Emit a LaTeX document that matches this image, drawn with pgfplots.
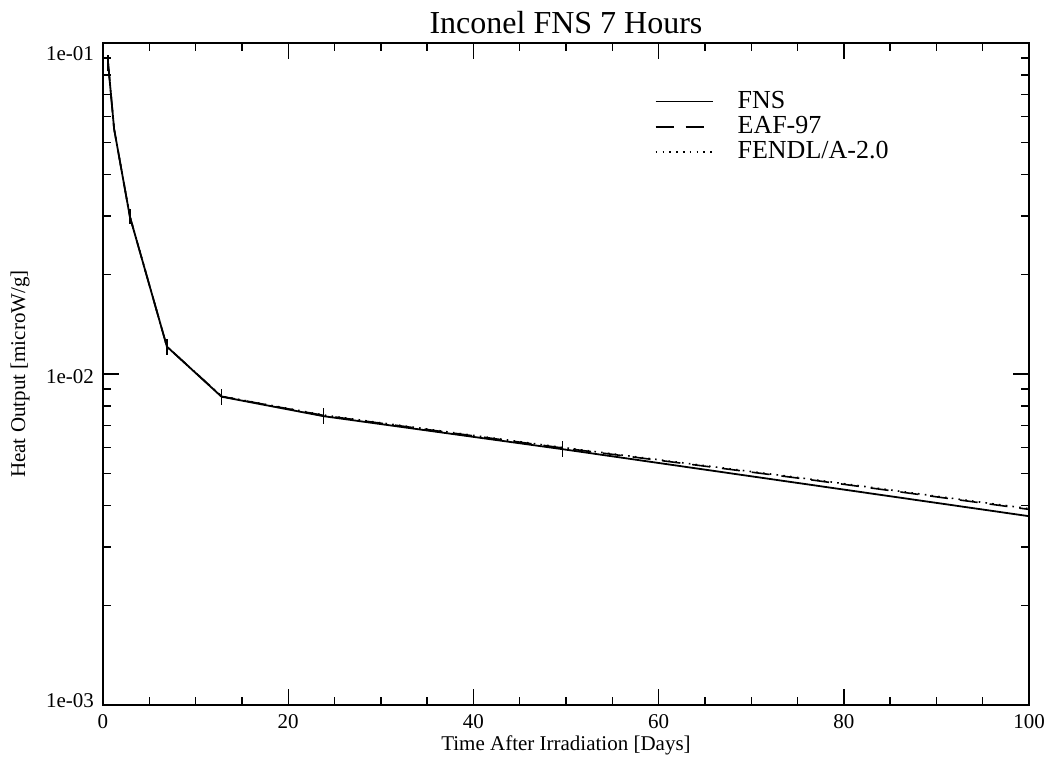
\documentclass[border=0pt]{standalone}
\usepackage{fontspec}
\setmainfont{Liberation Serif}
\usepackage{pgfplots}
\pgfplotsset{compat=1.18}
\begin{document}
\begin{tikzpicture}
\useasboundingbox (-51.5pt,-26pt) rectangle (475pt,352.5pt);
\begin{axis}[
  scale only axis,
  width=463pt, height=331pt,
  at={(0,0)}, anchor=south west,
  ymode=log,
  xmin=0, xmax=100, ymin=0.001, ymax=0.1,
  xtick={0,20,40,60,80,100},
  minor xtick={5,10,15,25,30,35,45,50,55,65,70,75,85,90,95},
  ytick={0.001,0.01,0.1},
  yticklabels={\smash{\raisebox{-1.1pt}{1e-03}},\smash{\raisebox{-4.6pt}{1e-02}},\smash{\raisebox{-8.6pt}{1e-01}}},
  minor ytick={0.002,0.003,0.004,0.005,0.006,0.007,0.008,0.009,0.02,0.03,0.04,0.05,0.06,0.07,0.08,0.09},
  tick align=inside,
  major tick length=8pt, minor tick length=4pt,
  every tick/.style={black, line width=0.7pt},
  axis line style={line width=0.8pt},
  /pgf/number format/assume math mode=true,
  tick label style={font=\fontsize{10.5}{12}\selectfont},
  xticklabel style={anchor=base, yshift=-11.5pt},
  yticklabel style={anchor=east, xshift=-1pt},
  title={Inconel FNS 7 Hours},
  title style={at={(0.5,1)}, anchor=base, yshift=-1pt, font=\fontsize{16}{18}\selectfont},
  xlabel={Time After Irradiation [Days]},
  xlabel style={at={(axis description cs:0.5,0)}, anchor=base, yshift=-22.5pt, font=\fontsize{10.5}{12}\selectfont},
  ylabel={Heat Output [microW/g]},
  ylabel style={at={(axis description cs:-0.0896,0.5)}, anchor=center, rotate=0, font=\fontsize{10.5}{12}\selectfont},
  legend image code/.code={\draw[#1] (0pt,0pt) -- (28.5pt,0pt);},
  legend style={draw=none, fill=none, at={(axis description cs:0.589,0.9376)}, anchor=north west,
    font=\fontsize{13}{15}\selectfont, column sep=11pt,
    nodes={inner sep=1pt, text height=8.7pt, text depth=2pt}},
  legend cell align=left,
]
\addplot[black, line width=0.9pt, mark=none,
  error bars/.cd, y dir=both, y explicit, error mark=none,
  error bar style={line width=0.8pt}]
  coordinates {
  (0.55,0.087) +- (0,0.0048)
  (1.2,0.055) +- (0,0)
  (2.9,0.0299) +- (0,0.0016)
  (6.9,0.0121) +- (0,0.00066)
  (12.8,0.00854) +- (0,0.00047)
  (23.8,0.00746) +- (0,0.00041)
  (49.6,0.00593) +- (0,0.00033)
  (100,0.00372) +- (0,0.0002)
  };
\addlegendentry{FNS}
\addplot[black, line width=0.8pt, dash pattern=on 9pt off 6pt]
  coordinates {
  (0.55,0.087) (1.2,0.055) (2.9,0.0299) (6.9,0.0121) (12.8,0.00856)
  (23.8,0.0075) (49.6,0.00598) (75,0.00485) (100,0.0039)
  };
\addlegendentry{EAF-97}
\addplot[black, line width=0.8pt, dash pattern=on 0.8pt off 2.6pt]
  coordinates {
  (0.55,0.087) (1.2,0.055) (2.9,0.0300) (6.9,0.0121) (12.8,0.00857)
  (23.8,0.00752) (49.6,0.00600) (75,0.00487) (100,0.00392)
  };
\addlegendentry{FENDL/A-2.0}
\end{axis}
\end{tikzpicture}
\end{document}
